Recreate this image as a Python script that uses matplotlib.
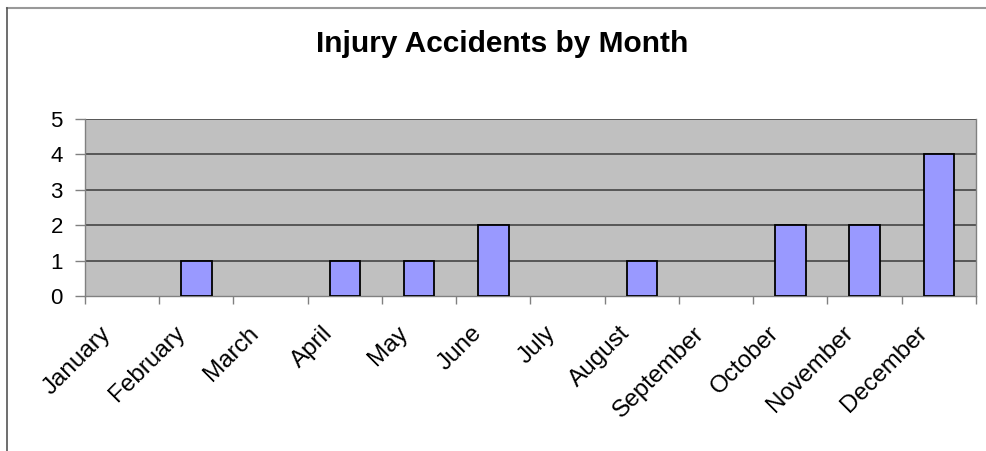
import matplotlib.pyplot as plt
import matplotlib.transforms as mtransforms
import numpy as np
from matplotlib.lines import Line2D

months = ['January', 'February', 'March', 'April', 'May', 'June', 'July',
          'August', 'September', 'October', 'November', 'December']
accidents = [0, 1, 0, 1, 1, 2, 0, 1, 0, 2, 2, 4]
yticks = [0, 1, 2, 3, 4, 5]

plt.rcParams['font.family'] = ['Liberation Sans', 'DejaVu Sans']

fig = plt.figure(figsize=(9.87, 4.51), dpi=100)
ax = fig.add_axes([85/987, 1-296/451, (976-85)/987, (296-119)/451])
ax.set_facecolor('#C0C0C0')

x = np.arange(len(months))
# empty months get no outline (Excel draws nothing there)
lw = [1.3 if v > 0 else 0 for v in accidents]
ax.bar(x, accidents, width=0.41, color='#9999FF', edgecolor='black', linewidth=lw, zorder=3)

ax.set_xlim(-0.5, len(months) - 0.5)
ax.set_ylim(0, 5)
ax.set_yticks(yticks)
ax.set_yticklabels([str(v) for v in yticks], fontsize=16)
for v in yticks[1:]:
    ax.axhline(v, color='#3a3a3a', linewidth=1.1, zorder=2)

# tick marks at category boundaries, month labels drawn as rotated text
ax.set_xticks(np.arange(len(months) + 1) - 0.5)
ax.set_xticklabels([])
ax.tick_params(axis='x', length=6, color='#808080', width=1)
ax.tick_params(axis='y', length=7, color='#808080', width=1, pad=9)

off = mtransforms.ScaledTranslation(-15/100, -34/100, fig.dpi_scale_trans)
for xi, name in zip(x, months):
    ax.text(xi, 0, name, transform=ax.get_xaxis_transform() + off, fontsize=17.5,
            rotation=45, ha='right', va='center', rotation_mode='anchor')

ax.spines['top'].set_visible(False)
for s in ['left', 'bottom', 'right']:
    ax.spines[s].set_color('#808080')
    ax.spines[s].set_linewidth(1)

fig.text(502/987, 1-44/451, 'Injury Accidents by Month', fontsize=21.5,
         fontweight='bold', ha='center', va='center')

# outer chart border (top and left edges visible)
fig.add_artist(Line2D([7/987, 1], [1-7.5/451, 1-7.5/451], color='#999999', linewidth=1.5))
fig.add_artist(Line2D([7.5/987, 7.5/987], [0, 1-7.5/451], color='#555555', linewidth=1.2))

fig.savefig('out.png', dpi=100)
